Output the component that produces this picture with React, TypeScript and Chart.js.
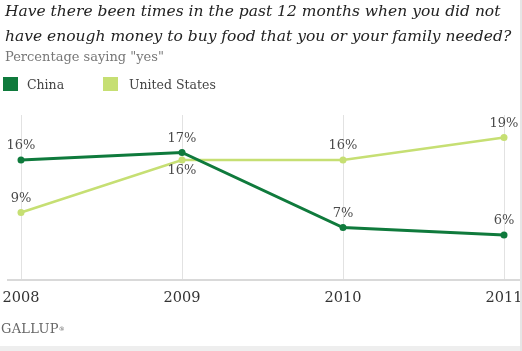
import React, { useEffect, useRef } from "react";
import { Chart, registerables } from "chart.js";

Chart.register(...registerables);

const years = ["2008", "2009", "2010", "2011"];
const chinaValues = [16, 17, 7, 6];
const usValues = [9, 16, 16, 19];
const chinaLabelPos = ["top", "top", "top", "top"];
const usLabelPos = ["top", "bottom", "top", "top"];
const yMin = 0;
const yMax = 22;

const CHINA = "#0f7a3c";
const US = "#c6df73";
const SERIF = "'DejaVu Serif', serif";

const overlayPlugin = {
  id: "overlay",
  beforeDatasetsDraw(chart: any) {
    const { ctx, chartArea } = chart;
    ctx.save();
    ctx.strokeStyle = "#d9d9d9";
    ctx.lineWidth = 2;
    ctx.beginPath();
    ctx.moveTo(7, chartArea.bottom);
    ctx.lineTo(520, chartArea.bottom);
    ctx.stroke();
    ctx.restore();
  },
  afterDatasetsDraw(chart: any) {
    const { ctx, chartArea } = chart;
    const xScale = chart.scales.x;
    ctx.save();
    ctx.font = `14.5px ${SERIF}`;
    ctx.fillStyle = "#333";
    ctx.textAlign = "center";
    ctx.textBaseline = "middle";
    years.forEach((y, i) => {
      ctx.fillText(y, xScale.getPixelForValue(i), chartArea.bottom + 18);
    });
    ctx.font = `13px ${SERIF}`;
    ctx.fillStyle = "#4a4a4a";
    chart.data.datasets.forEach((ds: any, di: number) => {
      const meta = chart.getDatasetMeta(di);
      const pos = di === 0 ? chinaLabelPos : usLabelPos;
      meta.data.forEach((pt: any, i: number) => {
        const dy = pos[i] === "top" ? -14 : 11;
        ctx.fillText(ds.data[i] + "%", pt.x, pt.y + dy);
      });
    });
    ctx.restore();
  },
};

export default function App() {
  const ref = useRef<HTMLCanvasElement | null>(null);
  useEffect(() => {
    if (!ref.current) return;
    const chart = new Chart(ref.current, {
      type: "line",
      data: {
        labels: years,
        datasets: [
          {
            label: "China",
            data: chinaValues,
            borderColor: CHINA,
            backgroundColor: CHINA,
            borderWidth: 3,
            pointRadius: 3.5,
            pointBorderWidth: 0,
            tension: 0,
          },
          {
            label: "United States",
            data: usValues,
            borderColor: US,
            backgroundColor: US,
            borderWidth: 2.5,
            pointRadius: 3.5,
            pointBorderWidth: 0,
            tension: 0,
          },
        ],
      },
      options: {
        animation: false,
        responsive: false,
        maintainAspectRatio: false,
        layout: { padding: { left: 21, right: 18, top: 115, bottom: 71 } },
        plugins: {
          legend: { display: false },
          title: { display: false },
          tooltip: { enabled: false },
        },
        scales: {
          x: {
            type: "category",
            offset: false,
            ticks: { display: false },
            grid: { color: "#e2e2e2", lineWidth: 1, drawTicks: false },
            border: { display: false },
          },
          y: {
            display: false,
            min: yMin,
            max: yMax,
          },
        },
      },
      plugins: [overlayPlugin],
    });
    return () => chart.destroy();
  }, []);

  return (
    <div
      style={{
        position: "absolute",
        left: 0,
        top: 0,
        width: 522,
        height: 351,
        background: "#fff",
        overflow: "hidden",
        fontFamily: SERIF,
      }}
    >
      <canvas ref={ref} width={522} height={351} style={{ position: "absolute", left: 0, top: 0 }} />
      <div
        style={{
          position: "absolute",
          left: 5,
          top: -1,
          fontStyle: "italic",
          fontSize: 15.5,
          lineHeight: "25px",
          color: "#222",
          whiteSpace: "nowrap",
        }}
      >
        <div>Have there been times in the past 12 months when you did not</div>
        <div>have enough money to buy food that you or your family needed?</div>
      </div>
      <div
        style={{
          position: "absolute",
          left: 5,
          top: 49,
          fontSize: 13,
          lineHeight: "16px",
          color: "#777",
          whiteSpace: "nowrap",
        }}
      >
        Percentage saying "yes"
      </div>
      <div
        style={{
          position: "absolute",
          left: 3,
          top: 76,
          height: 16,
          display: "flex",
          alignItems: "center",
          fontSize: 12.5,
          color: "#444",
          whiteSpace: "nowrap",
        }}
      >
        <span style={{ width: 15, height: 14, background: CHINA, display: "inline-block" }} />
        <span style={{ marginLeft: 9, width: 76 }}>China</span>
        <span style={{ width: 15, height: 14, background: US, display: "inline-block" }} />
        <span style={{ marginLeft: 11 }}>United States</span>
      </div>
      <div
        style={{
          position: "absolute",
          left: 1,
          top: 321,
          fontSize: 13,
          lineHeight: "16px",
          color: "#666",
          letterSpacing: 0.3,
        }}
      >
        GALLUP<span style={{ fontSize: 6, verticalAlign: "top" }}>®</span>
      </div>
      <div style={{ position: "absolute", left: 0, top: 346, width: 522, height: 5, background: "#eeeeee" }} />
      <div style={{ position: "absolute", left: 520, top: 0, width: 2, height: 351, background: "#e6e6e6" }} />
    </div>
  );
}
